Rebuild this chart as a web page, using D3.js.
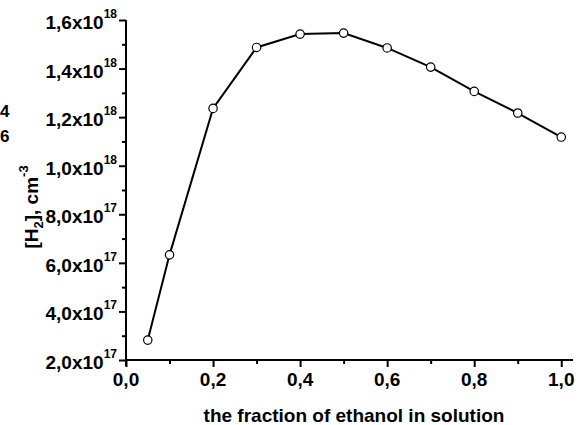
<!DOCTYPE html>
<html><head><meta charset="utf-8">
<script src="https://cdn.jsdelivr.net/npm/d3@7"></script>
<style>
body{margin:0;background:#fff;}
svg{display:block;font-family:"Liberation Sans",Arial,sans-serif;font-weight:bold;}
</style></head>
<body><svg id="c" width="585" height="425"></svg>
<script>
const fractions = [0.05, 0.1, 0.2, 0.3, 0.4, 0.5, 0.6, 0.7, 0.8, 0.9, 1.0];
const h2Conc = [2.82e17, 6.33e17, 1.236e18, 1.487e18, 1.542e18, 1.546e18, 1.485e18, 1.406e18, 1.306e18, 1.217e18, 1.118e18];
const xTicks = [0, 0.2, 0.4, 0.6, 0.8, 1.0];
const xMinor = [0.1, 0.3, 0.5, 0.7, 0.9];
const yTicks = [2e17, 4e17, 6e17, 8e17, 1e18, 1.2e18, 1.4e18, 1.6e18];
const yMinor = [3e17, 5e17, 7e17, 9e17, 1.1e18, 1.3e18, 1.5e18];
const yTickMant = ["2,0", "4,0", "6,0", "8,0", "1,0", "1,2", "1,4", "1,6"];
const yTickExp = ["17", "17", "17", "17", "18", "18", "18", "18"];
const xTickLabels = ["0,0", "0,2", "0,4", "0,6", "0,8", "1,0"];

const svg = d3.select("#c");
const x = d3.scaleLinear().domain([0, 1.027]).range([126, 573]);
const y = d3.scaleLinear().domain([2e17, 1.6e18]).range([360, 20]);

// x axis
const gx = svg.append("g").attr("transform", "translate(0,360)");
gx.call(d3.axisBottom(x).tickValues(xTicks).tickSize(7).tickFormat(""));
const gxm = svg.append("g").attr("transform", "translate(0,360)");
gxm.call(d3.axisBottom(x).tickValues(xMinor).tickSize(4).tickFormat(""));
gxm.select(".domain").remove();
gx.select(".domain").attr("d", `M${x(0)-1},0H${x.range()[1]}`);
svg.selectAll(".tick line").attr("stroke-width", 2);
gx.select(".domain").attr("stroke-width", 2);
svg.append("g").selectAll("text").data(xTicks).join("text")
  .attr("x", d => x(d)).attr("y", 386).attr("text-anchor", "middle")
  .attr("font-size", 19).text((d, i) => xTickLabels[i]);

// y axis
const gy = svg.append("g").attr("transform", "translate(126,0)");
gy.call(d3.axisLeft(y).tickValues(yTicks).tickSize(7).tickFormat(""));
const gym = svg.append("g").attr("transform", "translate(126,0)");
gym.call(d3.axisLeft(y).tickValues(yMinor).tickSize(4).tickFormat(""));
gym.select(".domain").remove();
gy.select(".domain").attr("d", `M0,${y(1.6e18)}V${y(2e17)+6}`).attr("stroke-width", 2);
gy.selectAll(".tick line").attr("stroke-width", 2);
gym.selectAll(".tick line").attr("stroke-width", 2);
const yl = svg.append("g").selectAll("text").data(yTicks).join("text")
  .attr("x", 117).attr("y", d => y(d) + 9).attr("text-anchor", "end")
  .attr("font-size", 19);
yl.append("tspan").text((d, i) => yTickMant[i] + "x10");
yl.append("tspan").attr("font-size", 12).attr("dy", -11).text((d, i) => yTickExp[i]);

// line and points
const line = d3.line().x((d, i) => x(fractions[i])).y(d => y(d));
svg.append("path").datum(h2Conc).attr("d", line)
  .attr("fill", "none").attr("stroke", "#000").attr("stroke-width", 2);
svg.append("g").selectAll("circle").data(h2Conc).join("circle")
  .attr("cx", (d, i) => x(fractions[i])).attr("cy", d => y(d)).attr("r", 4.2)
  .attr("fill", "#fff").attr("stroke", "#000").attr("stroke-width", 1.2);

// axis titles
svg.append("text").attr("x", 354).attr("y", 422).attr("text-anchor", "middle")
  .attr("font-size", 19).text("the fraction of ethanol in solution");
const yt = svg.append("text").attr("transform", "translate(38,207) rotate(-90)")
  .attr("text-anchor", "middle").attr("font-size", 19);
yt.append("tspan").text("[H");
yt.append("tspan").attr("font-size", 13).attr("dy", 5).text("2");
yt.append("tspan").attr("dy", -5).text("], cm");
yt.append("tspan").attr("font-size", 13).attr("dy", -10).text("-3");

// fragments at left edge
svg.append("text").attr("x", 0).attr("y", 117).attr("text-anchor", "start").attr("font-size", 17).text("4");
svg.append("text").attr("x", 0).attr("y", 142).attr("text-anchor", "start").attr("font-size", 17).text("6");
</script></body></html>
